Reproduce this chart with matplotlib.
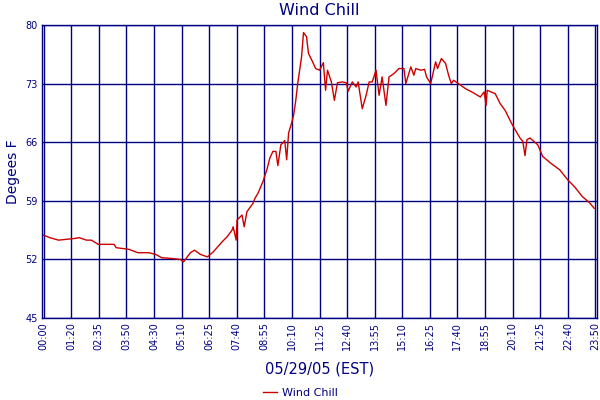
import matplotlib
matplotlib.use('Agg')
import matplotlib.pyplot as plt

# x positions are in tick-slot units (samples are evenly spaced on the axis)
tick_labels = ["00:00", "01:20", "02:35", "03:50", "04:30", "05:10", "06:25",
               "07:40", "08:55", "10:10", "11:25", "12:40", "13:55", "15:10",
               "16:25", "17:40", "18:55", "20:10", "21:25", "22:40", "23:50"]

slot = [0, 0.22, 0.54, 1.12, 1.29, 1.55, 1.73, 1.98, 2.55, 2.63, 3.09, 3.42,
        3.81, 4.06, 4.28, 4.68, 4.96, 5.07, 5.32, 5.47, 5.68, 5.94, 6.15,
        6.47, 6.65, 6.83, 6.87, 6.98, 7.01, 7.19, 7.27, 7.37, 7.59, 7.66,
        7.77, 7.95, 8.09, 8.20, 8.31, 8.42, 8.49, 8.60, 8.67, 8.74, 8.81,
        8.88, 8.99, 9.06, 9.14, 9.21, 9.35, 9.42, 9.53, 9.60, 9.75, 9.86,
        10.00, 10.14, 10.22, 10.29, 10.43, 10.54, 10.65, 10.83, 10.97, 11.04,
        11.19, 11.33, 11.40, 11.55, 11.69, 11.80, 11.91, 12.05, 12.16, 12.27,
        12.41, 12.52, 12.70, 12.88, 13.06, 13.13, 13.31, 13.42, 13.49, 13.67,
        13.81, 13.88, 14.03, 14.21, 14.28, 14.42, 14.57, 14.68, 14.78, 14.86,
        15.04, 15.29, 15.58, 15.83, 15.97, 16.04, 16.08, 16.37, 16.55, 16.73,
        16.94, 17.09, 17.27, 17.37, 17.45, 17.52, 17.63, 17.91, 18.09, 18.38,
        18.71, 19.00, 19.24, 19.53, 19.78, 19.96]

wind_chill = [54.9, 54.6, 54.3, 54.5, 54.6, 54.3, 54.3, 53.8, 53.8, 53.4, 53.2,
              52.8, 52.8, 52.6, 52.2, 52.1, 52.0, 51.7, 52.8, 53.1, 52.6, 52.3,
              52.9, 54.1, 54.7, 55.5, 55.9, 54.3, 56.7, 57.3, 55.9, 57.7, 58.7,
              59.3, 59.9, 61.3, 62.7, 64.1, 64.9, 64.9, 63.2, 65.7, 65.9, 66.2,
              63.9, 67.1, 68.3, 69.2, 71.0, 73.0, 76.2, 79.1, 78.6, 76.6, 75.6,
              74.8, 74.6, 75.5, 72.2, 74.6, 73.2, 71.0, 73.1, 73.2, 73.1, 72.1,
              73.2, 72.6, 73.2, 70.0, 71.6, 73.2, 73.2, 74.6, 71.6, 73.8, 70.4,
              73.8, 74.2, 74.8, 74.8, 73.0, 75.0, 74.0, 74.8, 74.6, 74.7, 73.8,
              73.0, 75.6, 74.8, 76.0, 75.4, 74.0, 73.0, 73.4, 73.0, 72.4, 71.9,
              71.4, 72.0, 70.4, 72.2, 71.8, 70.6, 69.8, 68.4, 67.5, 66.5, 66.1,
              64.4, 66.3, 66.5, 65.7, 64.3, 63.5, 62.7, 61.5, 60.7, 59.5, 58.8,
              58.1]

y_ticks = [45, 52, 59, 66, 73, 80]

navy = '#000080'
red = '#cc0000'

fig = plt.figure(figsize=(6, 4), dpi=100)
ax = fig.add_axes([0.07, 0.205, 0.925, 0.7325])

ax.plot(slot, wind_chill, color=red, linewidth=1, label='Wind Chill')

ax.set_xlim(-0.06, 20.06)
ax.set_ylim(45, 80)
ax.set_xticks(range(len(tick_labels)))
ax.set_xticklabels(tick_labels, rotation=90, fontsize=7, color=navy)
ax.set_yticks(y_ticks)
ax.set_yticklabels([str(v) for v in y_ticks], fontsize=7, color=navy)
ax.tick_params(length=0, pad=3)
ax.grid(True, color=navy, linewidth=1)
ax.set_axisbelow(True)
for s in ax.spines.values():
    s.set_color(navy)
    s.set_linewidth(1)

ax.set_title('Wind Chill', fontsize=11.5, color=navy, pad=7)
ax.set_ylabel('Degees F', fontsize=10, color=navy, labelpad=4)
ax.set_xlabel('05/29/05 (EST)', fontsize=10.5, color=navy, labelpad=8)

leg = fig.legend(loc='lower center', bbox_to_anchor=(0.5, -0.02), frameon=False,
                 fontsize=8, handlelength=1.3, handletextpad=0.4)
for t in leg.get_texts():
    t.set_color(navy)

fig.savefig('out.png', dpi=100)
